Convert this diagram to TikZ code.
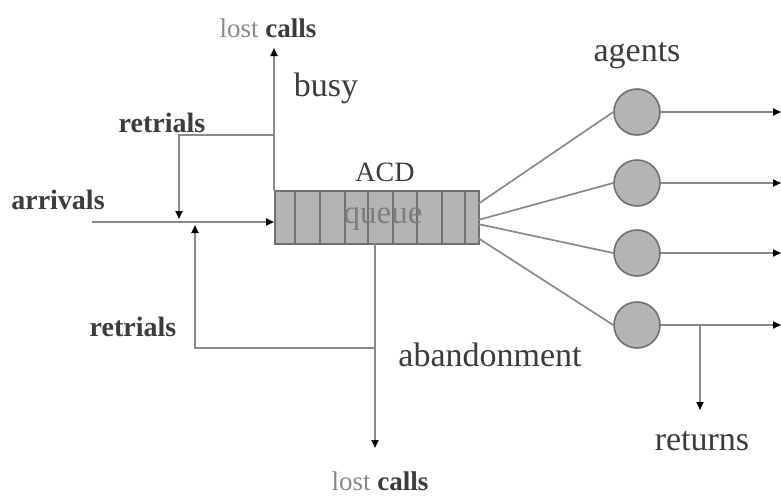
\documentclass[tikz,border=0pt]{standalone}
\usepackage{fontspec}
\setmainfont{Liberation Serif}
\usetikzlibrary{arrows.meta}
\definecolor{ln}{HTML}{8A8A8A}
\definecolor{fillg}{HTML}{B4B4B4}
\definecolor{edg}{HTML}{707070}
\definecolor{txt}{HTML}{3C3C3C}
\tikzset{
  conn/.style={draw=ln, line width=1.7pt},
  arr/.style={conn, -{Triangle[length=8pt,width=7pt,color=black]}},
  lbl/.style={text=txt, inner sep=0pt},
  agent/.style={circle, draw=edg, fill=fillg, line width=1.6pt, minimum size=46pt, inner sep=0pt},
  big/.style={lbl, font=\fontsize{34}{38}\selectfont},
  mid/.style={lbl, font=\fontsize{28}{32}\selectfont\bfseries},
}
\begin{document}
\begin{tikzpicture}[x=1pt,y=-1pt]
\useasboundingbox (0,0) rectangle (781,496);
% queue
\node[draw=edg, fill=fillg, line width=1.5pt, minimum width=204pt, minimum height=53pt, inner sep=0pt, anchor=north west] (q) at (274,190) {};
\foreach \x in {295,320,345,368,393,417,442,465}
  \draw[edg, line width=1.3pt] (\x,190) -- (\x,243);
\node[lbl, text=edg!80!fillg, font=\fontsize{33}{36}\selectfont] (qt) at (383,219) {queue};
\node[lbl, font=\fontsize{28}{32}\selectfont] (acd) at (385,172) {ACD};
% agents
\node[agent] (a1) at (637,112) {};
\node[agent] (a2) at (637,183) {};
\node[agent] (a3) at (637,253) {};
\node[agent] (a4) at (637,325) {};
\node[big] (ag) at (637,56) {agents};
% coordinates
\coordinate (arrstart) at (92,222);
\coordinate (qin) at (274,222);
\coordinate (qtop) at (274,190);
\coordinate (lostTop) at (274,48);
\coordinate (rtTop) at (274,135);
\coordinate (rtCorner) at (179,135);
\coordinate (rtDown) at (179,219);
\coordinate (qbot) at (375,243);
\coordinate (abJoin) at (375,348);
\coordinate (lostBot) at (375,448);
\coordinate (rbCorner) at (195,348);
\coordinate (rbUp) at (195,225);
\coordinate (o1) at (781,112);
\coordinate (o2) at (781,183);
\coordinate (o3) at (781,253);
\coordinate (o4) at (781,325);
\coordinate (rj) at (700,325);
\coordinate (rend) at (700,410);
% main flow
\draw[arr] (arrstart) -- (qin);
\draw[arr] (qtop) -- (lostTop);
\draw[arr] (rtTop) -- (rtCorner) -- (rtDown);
\draw[arr] (qbot) -- (lostBot);
\draw[arr] (abJoin) -- (rbCorner) -- (rbUp);
% queue to agents
\draw[conn] (478,204) -- (a1.west);
\draw[conn] (478,220) -- (a2.west);
\draw[conn] (478,224) -- (a3.west);
\draw[conn] (478,238) -- (a4.west);
% outputs
\draw[arr] (a1.east) -- (o1);
\draw[arr] (a2.east) -- (o2);
\draw[arr] (a3.east) -- (o3);
\draw[arr] (a4.east) -- (o4);
\draw[arr] (rj) -- (rend);
% labels
\node[lbl, font=\fontsize{27}{30}\selectfont] (lc1) at (268,28) {\textcolor{txt!60}{lost} \textbf{calls}};
\node[lbl, font=\fontsize{27}{30}\selectfont] (lc2) at (380,481) {\textcolor{txt!60}{lost} \textbf{calls}};
\node[big] (busy) at (326,88) {busy};
\node[mid] (rt1) at (162,123) {retrials};
\node[mid] (arrl) at (58,200) {arrivals};
\node[mid] (rt2) at (133,327) {retrials};
\node[big] (ab) at (490,355) {abandonment};
\node[big] (ret) at (702,441) {returns};
\end{tikzpicture}
\end{document}
